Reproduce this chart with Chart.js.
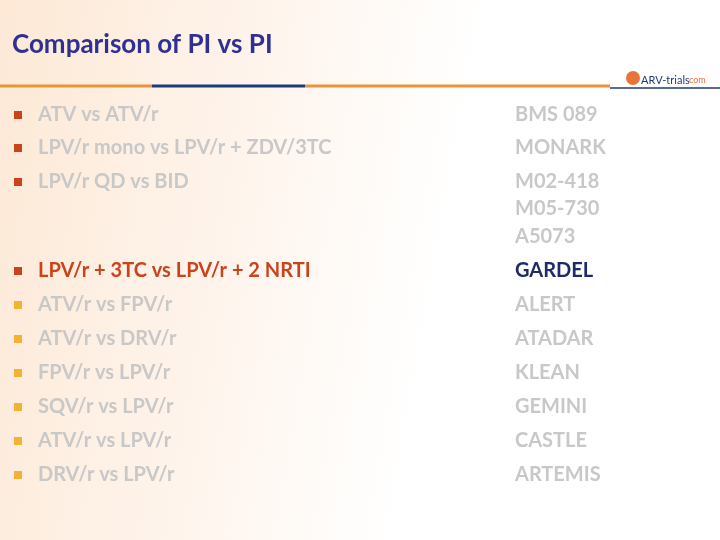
<!DOCTYPE html>
<html><head><meta charset="utf-8">
<script src="https://cdn.jsdelivr.net/npm/chart.js@4"></script>
<style>html,body{margin:0;padding:0;width:720px;height:540px;overflow:hidden;
background:linear-gradient(100deg,#fde9d6 0%,#fef3ea 30%,#ffffff 60%);}
canvas{display:block}</style></head><body>
<canvas id="c" width="720" height="540"></canvas>
<script>
const title = "Comparison of PI vs PI";
const comparisons = ["ATV vs ATV/r","LPV/r mono vs LPV/r + ZDV/3TC","LPV/r QD vs BID","","","LPV/r + 3TC vs LPV/r + 2 NRTI","ATV/r vs FPV/r","ATV/r vs DRV/r","FPV/r vs LPV/r","SQV/r vs LPV/r","ATV/r vs LPV/r","DRV/r vs LPV/r"];
const trials = ["BMS 089","MONARK","M02-418","M05-730","A5073","GARDEL","ALERT","ATADAR","KLEAN","GEMINI","CASTLE","ARTEMIS"];
const rowY = [115,148,182,209,237,271,305,339,373,407,441,475];
const highlight = 5;

const slidePlugin = {
  id:'slide',
  afterDraw(chart){
    const ctx = chart.ctx;
    ctx.save();
    ctx.textBaseline='middle';
    ctx.font='bold 26px Lato, "Open Sans", sans-serif';
    ctx.fillStyle='#2e3192';
    ctx.fillText(title,12,45);
    const seg=[[0,152,'#e8943a'],[152,305,'#1f3a7a'],[305,610,'#e8943a']];
    ctx.lineWidth=3;
    seg.forEach(s=>{ctx.strokeStyle=s[2];ctx.beginPath();ctx.moveTo(s[0],86);ctx.lineTo(s[1],86);ctx.stroke();});
    ctx.strokeStyle='#1f3a7a';ctx.lineWidth=1.5;ctx.beginPath();ctx.moveTo(610,88);ctx.lineTo(720,88);ctx.stroke();
    ctx.fillStyle='#e8743a';ctx.beginPath();ctx.arc(633,78,7,0,Math.PI*2);ctx.fill();
    ctx.font='11px Lato, sans-serif';ctx.fillStyle='#1f3a7a';ctx.fillText('ARV-trials',641,80);
    ctx.fillStyle='#e8743a';ctx.font='9px Lato, sans-serif';ctx.fillText('com',689,80);
    ctx.font='bold 20px Lato, "Open Sans", sans-serif';
    rowY.forEach((y,i)=>{
      const hi = i===highlight;
      if(comparisons[i]){
        ctx.fillStyle = (i<3||hi)?'#c9441c':'#f2b233';
        ctx.fillRect(14,y-4,8,8);
        ctx.fillStyle = hi?'#c9441c':'#c8c8c8';
        ctx.fillText(comparisons[i],38,y);
      }
      ctx.fillStyle = hi?'#1f2a6b':'#c8c8c8';
      ctx.fillText(trials[i],515,y);
    });
    ctx.restore();
  }
};
new Chart(document.getElementById('c'),{
  type:'scatter',
  data:{datasets:[{data:[]}]},
  options:{responsive:false,animation:false,
    plugins:{legend:{display:false},tooltip:{enabled:false}},
    scales:{x:{display:false},y:{display:false}}},
  plugins:[slidePlugin]
});
</script></body></html>
